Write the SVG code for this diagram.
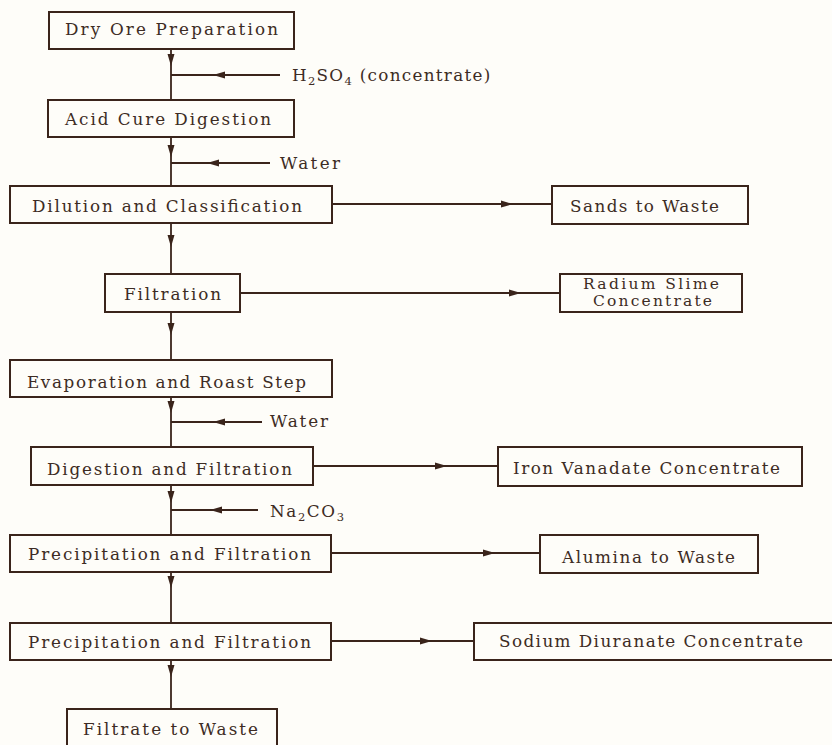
<svg xmlns="http://www.w3.org/2000/svg" width="832" height="745" viewBox="0 0 832 745">
  <style>
    .box { fill: none; stroke: #3a241b; stroke-width: 2; }
    .lbl { font-family: "DejaVu Serif", "Liberation Serif", serif; font-size: 16.8px; fill: #3d2c24; }
    .small { font-size: 15.5px; }
    .conn { fill: none; stroke: #3a241b; stroke-width: 1.8; marker-mid: url(#arrow); }
  </style>
  <defs>
    <marker id="arrow" viewBox="0 0 12 8" refX="12" refY="4" markerWidth="12" markerHeight="8" markerUnits="userSpaceOnUse" orient="auto">
      <path d="M0,0.5 L12,4 L0,7.5 Z" fill="#3a241b"/>
    </marker>
  </defs>

  <rect width="832" height="745" fill="#fefdf9"/>

  <!-- flow connectors -->
  <g id="connectors">
    <path class="conn" d="M171,49 L171,66 L171,100"/>
    <path class="conn" d="M280,75 L213,75 L171,75"/>
    <path class="conn" d="M171,137 L171,157 L171,186"/>
    <path class="conn" d="M270,163 L207,163 L171,163"/>
    <path class="conn" d="M332,204 L513,204 L552,204"/>
    <path class="conn" d="M171,223 L171,247 L171,274"/>
    <path class="conn" d="M240,293 L521,293 L560,293"/>
    <path class="conn" d="M171,312 L171,335 L171,360"/>
    <path class="conn" d="M171,397 L171,413 L171,447"/>
    <path class="conn" d="M262,422 L213,422 L171,422"/>
    <path class="conn" d="M313,466 L447,466 L498,466"/>
    <path class="conn" d="M171,485 L171,503 L171,535"/>
    <path class="conn" d="M258,510 L210,510 L171,510"/>
    <path class="conn" d="M331,553 L495,553 L540,553"/>
    <path class="conn" d="M171,572 L171,588 L171,623"/>
    <path class="conn" d="M331,641 L432,641 L474,641"/>
    <path class="conn" d="M171,660 L171,677 L171,709"/>
  </g>

  <!-- reagent inputs -->
  <g id="in-h2so4">
    <text class="lbl" x="292" y="81" letter-spacing="1.3">H<tspan font-size="11.5" dy="3.5">2</tspan><tspan dy="-3.5">S</tspan>O<tspan font-size="11.5" dy="3.5">4</tspan><tspan dy="-3.5"> (concentrate)</tspan></text>
  </g>
  <g id="in-water-1">
    <text class="lbl" x="280" y="169" textLength="60" lengthAdjust="spacing">Water</text>
  </g>
  <g id="in-water-2">
    <text class="lbl" x="270" y="427" textLength="58" lengthAdjust="spacing">Water</text>
  </g>
  <g id="in-na2co3">
    <text class="lbl" x="270" y="517" letter-spacing="1.6">Na<tspan font-size="11.5" dy="3.5">2</tspan><tspan dy="-3.5">CO</tspan><tspan font-size="11.5" dy="3.5">3</tspan></text>
  </g>

  <!-- main process steps -->
  <g id="dry-ore">
    <rect class="box" x="49" y="12" width="245" height="37"/>
    <text class="lbl" x="65" y="35" textLength="213" lengthAdjust="spacing">Dry Ore Preparation</text>
  </g>
  <g id="acid-cure">
    <rect class="box" x="48" y="100" width="246" height="37"/>
    <text class="lbl" x="65" y="125" textLength="206" lengthAdjust="spacing">Acid Cure Digestion</text>
  </g>
  <g id="dilution">
    <rect class="box" x="10" y="186" width="322" height="37"/>
    <text class="lbl" x="32" y="212" textLength="270" lengthAdjust="spacing">Dilution and Classification</text>
  </g>
  <g id="filtration">
    <rect class="box" x="105" y="274" width="135" height="38"/>
    <text class="lbl" x="124" y="300" textLength="97" lengthAdjust="spacing">Filtration</text>
  </g>
  <g id="evaporation">
    <rect class="box" x="10" y="360" width="322" height="37"/>
    <text class="lbl" x="27" y="388" textLength="279" lengthAdjust="spacing">Evaporation and Roast Step</text>
  </g>
  <g id="digestion">
    <rect class="box" x="31" y="447" width="282" height="38"/>
    <text class="lbl" x="47" y="475" textLength="245" lengthAdjust="spacing">Digestion and Filtration</text>
  </g>
  <g id="precip-1">
    <rect class="box" x="10" y="535" width="321" height="37"/>
    <text class="lbl" x="28" y="560" textLength="283" lengthAdjust="spacing">Precipitation and Filtration</text>
  </g>
  <g id="precip-2">
    <rect class="box" x="10" y="623" width="321" height="37"/>
    <text class="lbl" x="28" y="648" textLength="283" lengthAdjust="spacing">Precipitation and Filtration</text>
  </g>
  <g id="filtrate-waste">
    <rect class="box" x="67" y="709" width="210" height="40"/>
    <text class="lbl" x="83" y="735" textLength="175" lengthAdjust="spacing">Filtrate to Waste</text>
  </g>

  <!-- side products -->
  <g id="sands-waste">
    <rect class="box" x="552" y="186" width="196" height="38"/>
    <text class="lbl" x="570" y="212" textLength="149" lengthAdjust="spacing">Sands to Waste</text>
  </g>
  <g id="radium-slime">
    <rect class="box" x="560" y="274" width="182" height="38"/>
    <text class="lbl small" x="583" y="289" textLength="136" lengthAdjust="spacing">Radium Slime</text>
    <text class="lbl small" x="593" y="306" textLength="119" lengthAdjust="spacing">Concentrate</text>
  </g>
  <g id="iron-vanadate">
    <rect class="box" x="498" y="447" width="304" height="39"/>
    <text class="lbl" x="513" y="474" textLength="267" lengthAdjust="spacing">Iron Vanadate Concentrate</text>
  </g>
  <g id="alumina-waste">
    <rect class="box" x="540" y="535" width="218" height="38"/>
    <text class="lbl" x="562" y="563" textLength="173" lengthAdjust="spacing">Alumina to Waste</text>
  </g>
  <g id="sodium-diuranate">
    <rect class="box" x="474" y="623" width="362" height="37"/>
    <text class="lbl" x="499" y="647" textLength="304" lengthAdjust="spacing">Sodium Diuranate Concentrate</text>
  </g>
</svg>
